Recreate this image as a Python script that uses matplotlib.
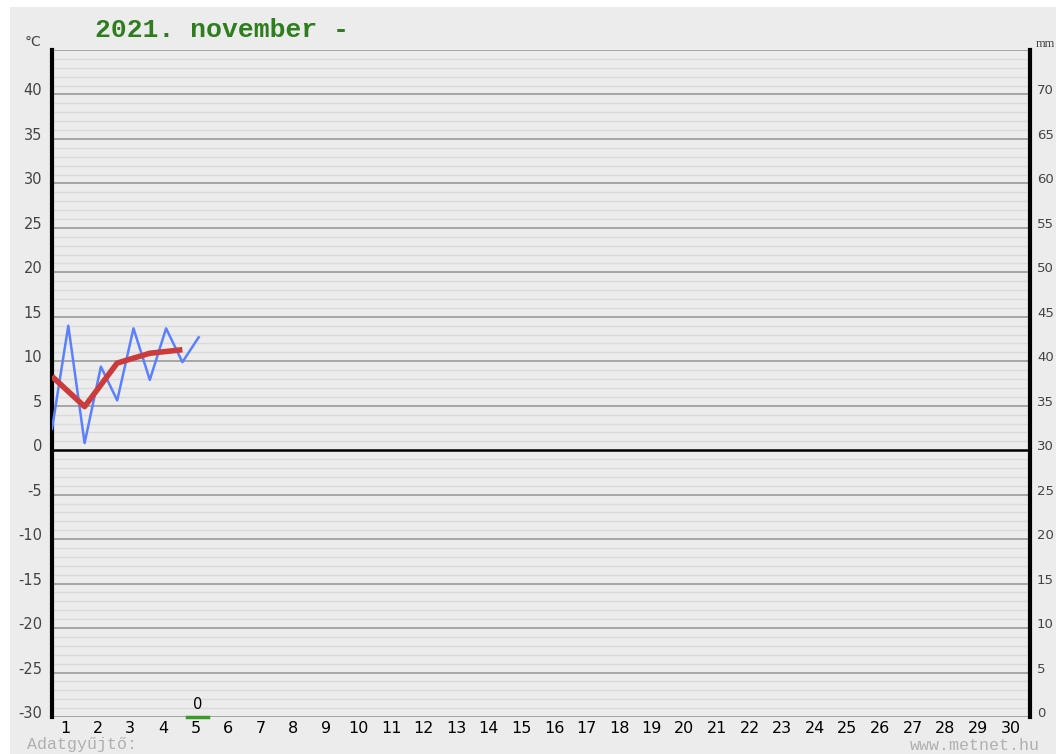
import matplotlib.pyplot as plt
import matplotlib.transforms as mtransforms
from matplotlib.patches import Rectangle

# half-day temperature readings (°C), starting at day 1 00:00
temp_x = [0, 0.5, 1, 1.5, 2, 2.5, 3, 3.5, 4, 4.5]
temp_vals = [2.4, 14.0, 0.8, 9.4, 5.6, 13.7, 7.9, 13.7, 9.9, 12.7]

# daily mean temperature
mean_x = [0, 1, 2, 3, 4]
mean_vals = [8.3, 4.9, 9.8, 10.9, 11.3]

# precipitation (mm)
rain_day = [5]
rain_vals = [0]

days = list(range(1, 31))
temp_ticks = list(range(-30, 45, 5))
mm_ticks = list(range(0, 75, 5))

W, H = 1056, 754
fig = plt.figure(figsize=(W / 100, H / 100), dpi=100, facecolor='white')
fig.patches.append(Rectangle((10 / W, 0), 1, 1 - 7 / H, transform=fig.transFigure,
                             facecolor='#ececec', edgecolor='none', zorder=-10))

ax = fig.add_axes([52 / W, 37 / H, 978 / W, 667 / H])
ax.set_facecolor('#ececec')
ax.set_xlim(0, 30)
ax.set_ylim(-30, 45)

# grid lines
for t in range(-30, 46):
    if t == 0:
        continue
    if t % 5 == 0:
        ax.axhline(t, color='#9a9a9a', lw=1.2, zorder=1)
    else:
        ax.axhline(t, color='#dadada', lw=1.0, zorder=1)
ax.axhline(0, color='black', lw=1.8, zorder=2)

ax.plot(temp_x, temp_vals, color='#5b80ff', lw=1.8, zorder=4)
ax.plot(mean_x, mean_vals, color='#cc3b3b', lw=4.0, zorder=5, solid_capstyle='butt')

# precipitation
for d, v in zip(rain_day, rain_vals):
    ax.plot([d - 0.85, d - 0.2], [-30 + v, -30 + v], color='#3a9a2a', lw=2.5,
            zorder=6, clip_on=False)
    ax.text(d - 0.52, -30 + v + 0.6, str(v), ha='center', va='bottom', fontsize=10.5,
            family='DejaVu Sans', color='black', zorder=6)

for s in ['top', 'bottom']:
    ax.spines[s].set_visible(False)
ax.spines['left'].set_linewidth(3)
ax.spines['right'].set_linewidth(3)

ax.set_yticks(temp_ticks)
ax.set_yticklabels([str(t) for t in temp_ticks])
ax.tick_params(axis='y', length=0, pad=7, labelsize=10.5, labelcolor='#444444')
ax.set_xticks([d - 0.6 for d in days])
ax.set_xticklabels([str(d) for d in days])
ax.tick_params(axis='x', length=0, pad=3, labelsize=11.5, labelcolor='black')

up = mtransforms.ScaledTranslation(0, 5 / 100, fig.dpi_scale_trans)
for lab in ax.get_yticklabels():
    lab.set_transform(lab.get_transform() + up)

ax2 = ax.twinx()
ax2.set_ylim(0, 75)
ax2.set_yticks(mm_ticks)
ax2.tick_params(axis='y', length=0, pad=5, labelsize=9.5, labelcolor='#444444')
for s in ['top', 'bottom', 'left', 'right']:
    ax2.spines[s].set_visible(False)
for lab in ax2.get_yticklabels():
    lab.set_transform(lab.get_transform() + up)

fig.text(33 / W, 1 - 42 / H, '°C', fontsize=10, color='#444444', ha='center', va='center')
fig.text(1036 / W, 1 - 44 / H, 'mm', fontsize=9, color='#444444', ha='left', va='center',
         family='Liberation Serif')
fig.text(95 / W, 1 - 30 / H, '2021. november -', fontsize=19, color='#2f7d1f',
         family='Liberation Mono', weight='bold', ha='left', va='center')
fig.text(27 / W, 1 - 745 / H, 'Adatgyűjtő:', fontsize=12, color='#b0b0b0',
         family='Liberation Mono', ha='left', va='center')
fig.text(1040 / W, 1 - 745 / H, 'www.metnet.hu', fontsize=12, color='#b0b0b0',
         family='Liberation Mono', ha='right', va='center')

fig.savefig('out.png', dpi=100, facecolor=fig.get_facecolor())
